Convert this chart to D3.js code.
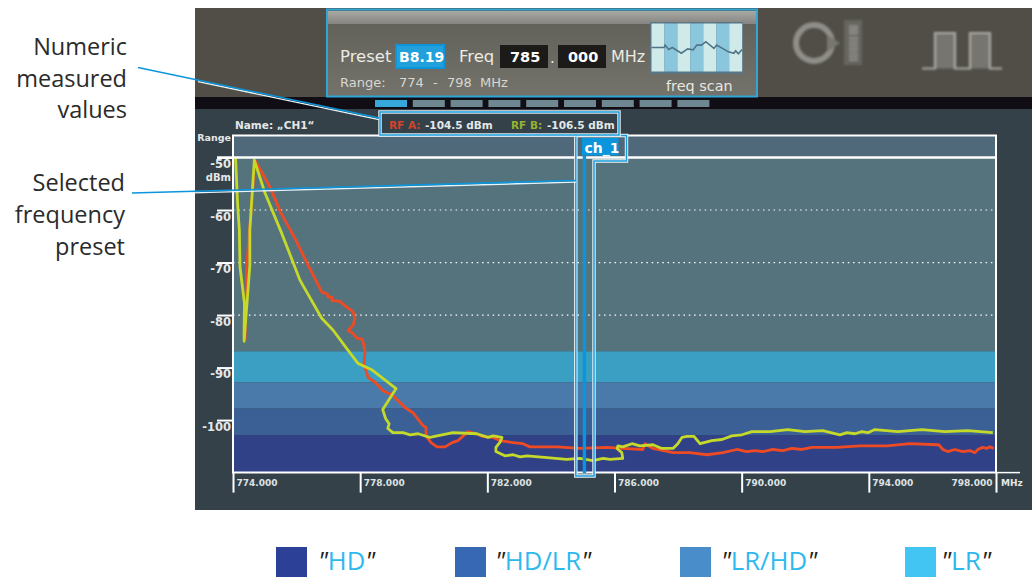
<!DOCTYPE html>
<html>
<head>
<meta charset="utf-8">
<style>
  html, body { margin: 0; padding: 0; background: #fff; }
  svg { display: block; }
  .dev { font-family: "DejaVu Sans", sans-serif; }
  .note { font-family: "Open Sans", sans-serif; font-size: 23.5px; fill: #2a2a2a; text-anchor: end; }
</style>
<script src="https://cdn.jsdelivr.net/npm/d3@7"></script>
</head>
<body>
<svg id="svg" width="1032" height="577"></svg>
<script>
// [MHz, dBm]
const rfA = [[774.38,-84.8],[774.43,-70.9],[774.69,-50.5],[775.16,-55.6],[775.51,-60.6],[775.95,-65.4],[776.33,-70.1],[776.80,-75.7],[776.96,-75.9],[776.99,-76.6],[777.11,-76.6],[777.11,-77.2],[777.36,-77.4],[777.58,-78.5],[777.77,-79.3],[777.84,-80.6],[777.77,-82.0],[777.62,-82.9],[777.77,-83.5],[777.90,-84.4],[778.06,-84.6],[778.12,-85.8],[778.15,-87.1],[778.12,-89.2],[778.25,-91.9],[778.47,-92.8],[778.72,-94.4],[779.03,-95.3],[779.41,-97.6],[779.66,-98.6],[779.97,-101.0],[780.07,-101.4],[780.07,-103.0],[780.23,-104.3],[780.42,-105.1],[780.67,-105.1],[780.89,-104.3],[781.08,-103.9],[781.39,-102.2],[781.67,-102.6],[781.83,-103.1],[782.18,-103.3],[782.40,-103.9],[782.81,-104.3],[783.12,-104.5],[783.34,-105.1],[784.19,-105.1],[784.91,-105.4],[785.76,-105.2],[786.26,-105.4],[786.89,-105.6],[786.96,-104.5],[787.21,-105.4],[787.84,-106.2],[788.37,-106.2],[788.91,-106.6],[789.41,-106.2],[789.85,-105.6],[790.16,-106.0],[790.42,-105.8],[790.67,-106.0],[790.98,-105.6],[791.30,-105.8],[791.58,-105.4],[791.89,-105.6],[792.21,-105.2],[792.99,-105.2],[793.72,-104.9],[794.57,-104.9],[795.29,-104.5],[796.14,-104.7],[796.20,-104.7],[796.33,-105.6],[796.48,-106.0],[796.70,-105.6],[796.96,-106.0],[797.18,-105.8],[797.33,-106.2],[797.43,-105.6],[797.58,-105.2],[797.71,-105.4],[797.81,-105.1],[797.93,-105.4]];
const rfB = [[774.08,-50],[774.15,-59.4],[774.20,-63.8],[774.22,-70.8],[774.36,-77.8],[774.35,-82.9],[774.35,-85.0],[774.53,-70.5],[774.53,-63.8],[774.67,-50.5],[775.01,-56.8],[775.53,-64.4],[776.11,-73.4],[776.79,-80.6],[777.15,-82.9],[777.58,-86.4],[777.93,-89.2],[778.36,-90.4],[779.13,-94.0],[778.71,-98.0],[778.80,-99.7],[778.91,-100.7],[778.87,-101.6],[779.03,-102.4],[779.35,-102.4],[779.57,-102.8],[779.82,-102.6],[780.19,-103.3],[780.92,-102.4],[781.67,-102.6],[782.02,-103.3],[782.18,-103.0],[782.46,-103.3],[782.40,-104.2],[782.27,-105.2],[782.27,-106.0],[782.55,-106.8],[782.81,-106.6],[783.03,-107.0],[783.25,-106.8],[783.97,-107.2],[784.50,-107.5],[784.91,-107.3],[785.32,-107.7],[785.64,-107.3],[785.86,-107.5],[786.26,-107.3],[786.23,-106.2],[786.08,-105.4],[786.11,-104.9],[786.26,-105.1],[786.55,-104.5],[786.80,-104.9],[787.21,-104.7],[787.49,-105.4],[787.84,-105.4],[787.99,-104.5],[788.12,-103.3],[788.28,-103.1],[788.50,-103.1],[788.69,-104.5],[789.06,-103.9],[789.38,-103.7],[789.69,-103.0],[790.01,-102.8],[790.32,-102.2],[790.89,-102.2],[791.45,-101.8],[791.99,-102.2],[792.55,-102.0],[793.09,-102.8],[793.31,-102.4],[793.56,-102.6],[793.78,-102.2],[793.97,-102.4],[794.19,-101.8],[794.91,-102.2],[795.67,-101.8],[796.39,-102.2],[797.11,-102.0],[797.90,-102.4]];

const xTicks = [774, 778, 782, 786, 790, 794, 798];
const yTicks = [-50, -60, -70, -80, -90, -100];
const dottedLevels = [-60, -70, -80];
const bandEdges = [-45.8, -50, -86.9, -92.8, -97.8, -102.9, -110];
const bandColors = ['#50697a', '#55737d', '#3a9fc2', '#4a7aa9', '#3a6096', '#304187'];
const legendNames = ['HD', 'HD/LR', 'LR/HD', 'LR'];
const legendColors = ['#2b4096', '#3768b3', '#4a8dcb', '#43c5f4'];
const legendSquareX = [276, 455, 680, 905];
const legendTextX = [318, 495, 721, 941];
const legendTextW = [57, 96, 96, 50];
const scanPos = [0, 14, 15, 19, 23, 33, 40, 46, 50, 55, 60, 69, 72, 85, 91, 93, 96, 100];
const scanLevel = [50, 50, 55, 46, 50, 38, 47, 45, 55, 55, 62, 48, 55, 41, 38, 43, 37, 46];

const svg = d3.select('#svg');
const x = d3.scaleLinear().domain([774, 798]).range([233, 996]);
const y = d3.scaleLinear().domain([-50, -110]).range([157.5, 472.6]);

// device background
svg.append('rect').attr('x', 195).attr('y', 8).attr('width', 837).attr('height', 502).attr('fill', '#344148');
svg.append('rect').attr('x', 195).attr('y', 8).attr('width', 837).attr('height', 89).attr('fill', '#504e47');
svg.append('rect').attr('x', 195).attr('y', 97).attr('width', 837).attr('height', 12).attr('fill', '#100d14');

const defs = svg.append('defs');
const g1 = defs.append('linearGradient').attr('id', 'boxFill').attr('x1', 0).attr('x2', 0).attr('y1', 0).attr('y2', 1);
g1.append('stop').attr('offset', '0%').attr('stop-color', '#5f5e57');
g1.append('stop').attr('offset', '100%').attr('stop-color', '#73726b');
const g2 = defs.append('linearGradient').attr('id', 'boxHead').attr('x1', 0).attr('x2', 0).attr('y1', 0).attr('y2', 1);
g2.append('stop').attr('offset', '0%').attr('stop-color', '#a8a8a4');
g2.append('stop').attr('offset', '100%').attr('stop-color', '#858480');
defs.append('filter').attr('id', 'soft').append('feGaussianBlur').attr('stdDeviation', 0.8);

// preset box
svg.append('rect').attr('x', 327).attr('y', 9.5).attr('width', 430).attr('height', 87)
  .attr('fill', 'url(#boxFill)').attr('stroke', '#2fa6d6').attr('stroke-width', 2);
svg.append('rect').attr('x', 328).attr('y', 11).attr('width', 428).attr('height', 13).attr('fill', 'url(#boxHead)');

const topText = (txt, px, py, size, weight, fill) => svg.append('text').attr('class', 'dev')
  .attr('x', px).attr('y', py).attr('font-size', size).attr('font-weight', weight).attr('fill', fill).text(txt);

topText('Preset', 340, 62, 16.5, 'normal', '#ecebe4');
svg.append('rect').attr('x', 396).attr('y', 45).attr('width', 48).attr('height', 23)
  .attr('fill', '#22a0dc').attr('stroke', '#0c95dc').attr('stroke-width', 2);
topText('B8.19', 399, 62, 14, 'bold', '#fff');
topText('Freq', 459, 62, 16.5, 'normal', '#ecebe4');
svg.append('rect').attr('x', 500).attr('y', 45).attr('width', 48).attr('height', 23).attr('fill', '#1d1b1a');
topText('785', 510, 62, 14.5, 'bold', '#fff');
topText('.', 550, 63, 15, 'normal', '#ecebe4');
svg.append('rect').attr('x', 558).attr('y', 45).attr('width', 48).attr('height', 23).attr('fill', '#1d1b1a');
topText('000', 568, 62, 14.5, 'bold', '#fff');
topText('MHz', 611, 62, 16, 'normal', '#ecebe4');
topText('Range:', 340, 87, 13, 'normal', '#d8d7d0');
topText('774', 399, 87, 13, 'normal', '#d8d7d0');
topText('-', 433, 87, 13, 'normal', '#d8d7d0');
topText('798', 447, 87, 13, 'normal', '#d8d7d0');
topText('MHz', 480, 87, 13, 'normal', '#d8d7d0');
topText('freq scan', 666, 91, 14.4, 'normal', '#e8e7e0');

// freq scan thumbnail
const scanX = d3.scaleLinear().domain([0, 100]).range([651.5, 742]);
const scanY = d3.scaleLinear().domain([0, 100]).range([71.5, 23.5]);
svg.append('rect').attr('x', 650).attr('y', 22).attr('width', 93).attr('height', 52).attr('fill', '#5b7584');
svg.selectAll('.stripe').data(d3.range(7)).enter().append('rect').attr('class', 'stripe')
  .attr('x', d => 651.5 + d * 12.95).attr('y', 23.5).attr('width', 12.95).attr('height', 48)
  .attr('fill', d => d % 2 ? '#8ac6dc' : '#d0eaea');
svg.append('path').attr('d', d3.line().x(d => scanX(d[0])).y(d => scanY(d[1]))(d3.zip(scanPos, scanLevel)))
  .attr('fill', 'none').attr('stroke', '#4f7588').attr('stroke-width', 1.6);

// right hand icons
const icons = svg.append('g').attr('filter', 'url(#soft)');
icons.append('circle').attr('cx', 814).attr('cy', 43).attr('r', 18).attr('fill', 'none').attr('stroke', '#8f8e88').attr('stroke-width', 6);
icons.append('path').attr('d', 'M827,35 L840,43 L827,52 Z').attr('fill', '#77766f');
icons.append('rect').attr('x', 844).attr('y', 20).attr('width', 18).attr('height', 45).attr('fill', '#66655f');
icons.append('rect').attr('x', 849).attr('y', 25).attr('width', 9).attr('height', 10).attr('fill', '#85847e');
icons.selectAll('.seg').data(d3.range(7)).enter().append('rect').attr('class', 'seg')
  .attr('x', 849).attr('y', d => 37 + d * 3.6).attr('width', 9).attr('height', 2.2).attr('fill', '#8f8e88');
icons.append('path').attr('d', 'M922,68.5 H935 V33 H955 V68.5 H970 V33 H990 V68.5 H1002')
  .attr('fill', '#76756f').attr('stroke', '#a8a7a1').attr('stroke-width', 2.2);

// preset slots
svg.selectAll('.slot').data(d3.range(9)).enter().append('rect').attr('class', 'slot')
  .attr('x', d => 375 + d * 37.8).attr('y', 100).attr('width', 32).attr('height', 7)
  .attr('fill', d => d === 0 ? '#36a8dc' : '#6f8791');

// bands
svg.selectAll('.band').data(bandColors).enter().append('rect').attr('class', 'band')
  .attr('x', x(774)).attr('width', x(798) - x(774))
  .attr('y', (d, i) => y(bandEdges[i])).attr('height', (d, i) => y(bandEdges[i + 1]) - y(bandEdges[i]))
  .attr('fill', d => d);

svg.selectAll('.dots').data(dottedLevels).enter().append('line').attr('class', 'dots')
  .attr('x1', x(774)).attr('x2', x(798)).attr('y1', d => y(d)).attr('y2', d => y(d))
  .attr('stroke', '#fff').attr('stroke-width', 1.2).attr('stroke-dasharray', '1.5,3.8');

// traces
const line = d3.line().x(d => x(d[0])).y(d => y(d[1]));
svg.append('path').attr('d', line(rfA)).attr('fill', 'none').attr('stroke', '#ee4b24').attr('stroke-width', 2.8).attr('stroke-linejoin', 'round');
svg.append('path').attr('d', line(rfB)).attr('fill', 'none').attr('stroke', '#c5d92a').attr('stroke-width', 2.8).attr('stroke-linejoin', 'round');

// frame
svg.append('rect').attr('x', x(774)).attr('y', 135.5).attr('width', x(798) - x(774)).attr('height', 337)
  .attr('fill', 'none').attr('stroke', '#fff').attr('stroke-width', 2);
svg.append('line').attr('x1', 217).attr('x2', x(798)).attr('y1', y(-50)).attr('y2', y(-50)).attr('stroke', '#fff').attr('stroke-width', 2.5);

// cursor column
svg.append('rect').attr('x', x(785)).attr('y', 156).attr('width', 3.4).attr('height', 317).attr('fill', '#0a95dc');
const tabPath = 'M575.8,135.5 H626.5 V161 H594 V476 H575.8 Z';
svg.append('path').attr('d', tabPath).attr('fill', 'none').attr('stroke', '#eef6f8').attr('stroke-width', 3.4);
svg.append('path').attr('d', tabPath).attr('fill', 'none').attr('stroke', '#1a9ddc').attr('stroke-width', 1.5);
svg.append('rect').attr('x', 582).attr('y', 138).attr('width', 36.5).attr('height', 17.5).attr('fill', '#0a95dc');
svg.append('text').attr('class', 'dev').attr('x', 584.5).attr('y', 152.5).attr('font-size', 14).attr('font-weight', 'bold').attr('fill', '#fff').text('ch_1');

// axes
const xAxis = svg.append('g').attr('transform', `translate(0,${y(-110)})`)
  .call(d3.axisBottom(x).tickValues(xTicks).tickSize(20).tickFormat(d3.format('.3f')));
xAxis.select('.domain').remove();
xAxis.selectAll('line').attr('stroke', '#fff').attr('stroke-width', 2);
xAxis.selectAll('text').attr('y', 7).attr('dy', '0.71em').attr('x', d => d === 798 ? -4 : 3)
  .style('text-anchor', d => d === 798 ? 'end' : 'start')
  .attr('fill', '#dfe3e4').attr('font-family', '"DejaVu Sans", sans-serif').attr('font-size', 9).attr('font-weight', 'bold');
svg.append('line').attr('x1', x(798)).attr('x2', 1020).attr('y1', y(-110)).attr('y2', y(-110)).attr('stroke', '#fff').attr('stroke-width', 1.5);

const yAxis = svg.append('g').attr('transform', `translate(${x(774)},0)`)
  .call(d3.axisLeft(y).tickValues(yTicks).tickSize(16).tickFormat(d3.format('d')));
yAxis.select('.domain').remove();
yAxis.selectAll('line').attr('stroke', '#fff').attr('stroke-width', 2);
yAxis.selectAll('text').attr('x', -2).attr('y', 0).attr('dy', '10px')
  .style('text-anchor', 'end').text(d => d)
  .attr('fill', '#e4e7e8').attr('font-family', '"DejaVu Sans", sans-serif').attr('font-size', 11.5).attr('font-weight', 'bold');

const smallText = (txt, px, py, size, anchor) => svg.append('text').attr('class', 'dev')
  .attr('x', px).attr('y', py).attr('font-size', size).attr('font-weight', 'bold')
  .attr('fill', '#e4e7e8').attr('text-anchor', anchor || 'start').text(txt);
smallText('dBm', 231, 180.5, 10, 'end');
smallText('Range', 231, 141, 9.5, 'end');
smallText('Name: „CH1“', 235, 128.5, 10.5);
smallText('MHz', 1001, 486, 9);

// measured values box
svg.append('rect').attr('x', 380).attr('y', 112).attr('width', 239).attr('height', 23)
  .attr('fill', '#344148').attr('stroke', '#eef6f8').attr('stroke-width', 3.4);
svg.append('rect').attr('x', 380).attr('y', 112).attr('width', 239).attr('height', 23)
  .attr('fill', 'none').attr('stroke', '#1a9ddc').attr('stroke-width', 1.5);
smallText('RF A:', 389, 128.5, 10.5).attr('fill', '#d8412a');
smallText('-104.5 dBm', 425, 128.5, 10.5);
smallText('RF B:', 511, 128.5, 10.5).attr('fill', '#96b42c');
smallText('-106.5 dBm', 547, 128.5, 10.5);

// leader lines
const leader = (x1, y1, x2, y2) => {
  svg.append('line').attr('x1', x1 + 60).attr('y1', y1 + (y2 - y1) * 60 / (x2 - x1) + 1.6).attr('x2', x2).attr('y2', y2 + 1.6).attr('stroke', '#e8f4f8').attr('stroke-width', 1.4);
  svg.append('line').attr('x1', x1).attr('y1', y1).attr('x2', x2).attr('y2', y2).attr('stroke', '#0a95dc').attr('stroke-width', 1.6);
};
leader(138, 67.5, 379, 118);
leader(132, 193, 576, 180.5);

// annotation text
[['Numeric', 127, 55], ['measured', 127, 87], ['values', 127, 118],
 ['Selected', 125, 191], ['frequency', 125, 223], ['preset', 125, 255]].forEach(d => {
  svg.append('text').attr('class', 'note').attr('x', d[1]).attr('y', d[2]).text(d[0]);
});

// legend
svg.selectAll('.lsq').data(legendColors).enter().append('rect').attr('class', 'lsq')
  .attr('x', (d, i) => legendSquareX[i]).attr('y', 547).attr('width', 31).attr('height', 30).attr('fill', d => d);
const legendText = svg.selectAll('.ltx').data(legendNames).enter().append('text').attr('class', 'ltx')
  .attr('x', (d, i) => legendTextX[i]).attr('y', 570)
  .attr('font-family', '"Open Sans", sans-serif').attr('font-size', 26)
  .attr('textLength', (d, i) => legendTextW[i]).attr('lengthAdjust', 'spacingAndGlyphs');
legendText.append('tspan').attr('fill', '#222').attr('font-style', 'italic').text('"');
legendText.append('tspan').attr('fill', '#2db9f0').text(d => d);
legendText.append('tspan').attr('fill', '#222').attr('font-style', 'italic').text('"');
</script>
</body>
</html>
